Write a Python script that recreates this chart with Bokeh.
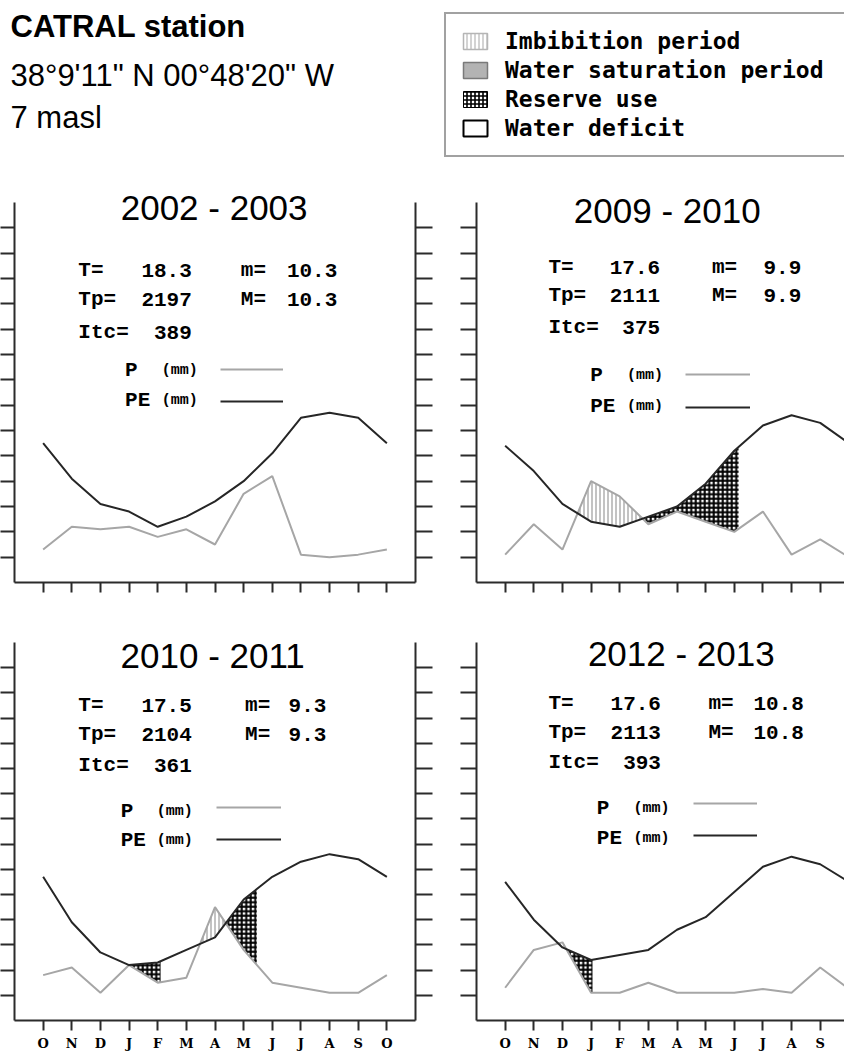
import numpy as np
from bokeh.plotting import figure
from bokeh.models import (Range1d, LinearAxis, FixedTicker, Label, Legend,
                          LegendItem, ColumnDataSource)
from bokeh.layouts import column, row
from bokeh.embed import file_html
from bokeh.resources import INLINE
from bokeh.core.properties import value

# ---------------- data ----------------
MONTHS = ["O", "N", "D", "J", "F", "M", "A", "M", "J", "J", "A", "S", "O"]
Y_TICKS = [10, 20, 30, 40, 50, 60, 70, 80, 90, 100, 110, 120, 130, 140]

STATION = "CATRAL station"
COORDS = "38°9'11\" N 00°48'20\" W"
ALTITUDE = "7 masl"
LEGEND_LABELS = ["Imbibition period", "Water saturation period",
                 "Reserve use", "Water deficit"]

TITLES = ["2002 - 2003", "2009 - 2010", "2010 - 2011", "2012 - 2013"]

P_0203 = [13, 22, 21, 22, 18, 21, 15, 35, 42, 11, 10, 11, 13]
PE_0203 = [55, 41, 31, 28, 22, 26, 32, 40, 51, 65, 67, 65, 55]
P_0910 = [11, 23, 13, 40, 34, 23, 28, 24, 20, 28, 11, 17, 10]
PE_0910 = [54, 44, 31, 24, 22, 26, 30, 39, 52, 62, 66, 63, 55]
P_1011 = [18, 21, 11, 22, 15, 17, 45, 28, 15, 13, 11, 11, 18]
PE_1011 = [57, 39, 27, 22, 23, 28, 33, 48, 57, 63, 66, 64, 57]
P_1213 = [13, 28, 31, 11, 11, 15, 11, 11, 11, 12.5, 11, 21, 12.5]
PE_1213 = [55, 40, 29, 24, 26, 28, 36, 41, 51, 61, 65, 62, 55]

# reserve-use periods (month-index spans)
RESERVE_0203 = []
RESERVE_0910 = [(4.8, 8.15)]
RESERVE_1011 = [(3.0, 4.1), (6.38, 7.46)]
RESERVE_1213 = [(2.13, 3.05)]

STATS_0203 = ["18.3", "2197", "389", "10.3", "10.3"]
STATS_0910 = ["17.6", "2111", "375", "9.9", "9.9"]
STATS_1011 = ["17.5", "2104", "361", "9.3", "9.3"]
STATS_1213 = ["17.6", "2113", "393", "10.8", "10.8"]
STAT_NAMES = ["T=", "Tp=", "Itc=", "m=", "M="]

PANELS = [
    (TITLES[0], P_0203, PE_0203, RESERVE_0203, STATS_0203),
    (TITLES[1], P_0910, PE_0910, RESERVE_0910, STATS_0910),
    (TITLES[2], P_1011, PE_1011, RESERVE_1011, STATS_1011),
    (TITLES[3], P_1213, PE_1213, RESERVE_1213, STATS_1213),
]

# ---------------- layout (positions of annotations) ----------------
PX_PER_MONTH = 401 / 14.0
LAYOUT = [
    dict(side="left", rowpos="top", tx=5.97, ty=148.0, ax=1.23, bx=5.19, cx=6.90, dx=8.51,
         rows=(123.0, 111.9, 98.7), px=2.86, mmx=4.14, lx0=6.18, lx1=8.39,
         py=83.7, pey=71.8, ply=84.1, pely=71.6),
    dict(side="right", rowpos="top", tx=5.66, ty=146.7, ax=1.51, bx=5.41, cx=7.22, dx=9.02,
         rows=(124.3, 113.1, 100.5), px=2.97, mmx=4.25, lx0=6.29, lx1=8.55,
         py=81.7, pey=69.3, ply=82.1, pely=69.2),
    dict(side="left", rowpos="bottom", tx=5.92, ty=144.7, ax=1.23, bx=5.19, cx=7.05, dx=8.57,
         rows=(124.8, 113.6, 101.2), px=2.71, mmx=3.97, lx0=6.04, lx1=8.30,
         py=82.9, pey=71.5, ply=83.9, pely=71.4),
    dict(side="right", rowpos="bottom", tx=6.15, ty=145.5, ax=1.51, bx=5.44, cx=7.10, dx=8.67,
         rows=(125.8, 114.4, 102.2), px=3.20, mmx=4.48, lx0=6.57, lx1=8.81,
         py=84.3, pey=72.4, ply=85.4, pely=72.8),
]

MONO = "Liberation Mono"
SANS = "Liberation Sans"
AXIS_COLOR = "#2b2b2b"
P_COLOR = "#a6a6a6"
PE_COLOR = "#262626"


def with_crossings(x, a, b):
    xs = [x[0]]
    for k in range(len(x) - 1):
        d0 = a[k] - b[k]
        d1 = a[k + 1] - b[k + 1]
        if d0 * d1 < 0:
            t = d0 / (d0 - d1)
            xs.append(x[k] + t * (x[k + 1] - x[k]))
        xs.append(x[k + 1])
    return np.array(xs, dtype=float)


def make_panel(title, P, PE, reserve, stats, L):
    if L["side"] == "left":
        width, mbl, mbr = 445, 14, 30
        xr = Range1d(-1, 13)
    else:
        width, mbl, mbr = 399, 31, 0
        xr = Range1d(-1, -1 + 368 / PX_PER_MONTH)
    if L["rowpos"] == "top":
        # frame from page y 190 to 582; y=150 sits at 202
        height, mbt, mbb = 435, 5, 38
        yscale = 380 / 150.0
        ytop = 150 + 12 / yscale
    else:
        # frame from page y 633 to 1023; y=150 sits at 642
        height, mbt, mbb = 433, 13, 30
        yscale = 381 / 150.0
        ytop = 150 + 9 / yscale

    p = figure(width=width, height=height, x_range=xr, y_range=Range1d(0, ytop),
               output_backend="svg", toolbar_location=None,
               x_axis_type=None, y_axis_type=None,
               min_border_left=mbl, min_border_right=mbr,
               min_border_top=mbt, min_border_bottom=mbb)
    p.outline_line_color = None
    p.background_fill_color = "white"

    # axes
    xaxis = LinearAxis(ticker=FixedTicker(ticks=list(range(13))))
    xaxis.axis_line_color = AXIS_COLOR
    xaxis.axis_line_width = 2
    xaxis.major_tick_line_color = AXIS_COLOR
    xaxis.major_tick_line_width = 2
    xaxis.major_tick_in = 0
    xaxis.major_tick_out = 10
    xaxis.minor_tick_line_color = None
    if L["rowpos"] == "bottom":
        xaxis.major_label_overrides = {i: m for i, m in enumerate(MONTHS)}
        xaxis.major_label_text_font = "DejaVu Serif"
        xaxis.major_label_text_font_style = "bold"
        xaxis.major_label_text_font_size = "13px"
        xaxis.major_label_text_color = "black"
        xaxis.major_label_standoff = 5
    else:
        xaxis.major_label_overrides = {i: "" for i in range(13)}
        xaxis.major_label_text_font_size = "0px"
        xaxis.major_label_standoff = 0
    p.add_layout(xaxis, "below")

    def yaxis(tick_out):
        ax = LinearAxis(ticker=FixedTicker(ticks=Y_TICKS), bounds=(0, 150))
        ax.axis_line_color = AXIS_COLOR
        ax.axis_line_width = 2
        ax.major_tick_line_color = AXIS_COLOR
        ax.major_tick_line_width = 2
        ax.major_tick_in = 0
        ax.major_tick_out = tick_out
        ax.minor_tick_line_color = None
        ax.major_label_overrides = {t: "" for t in Y_TICKS}
        ax.major_label_text_font_size = "0px"
        ax.major_label_standoff = 0
        return ax

    if L["side"] == "left":
        p.add_layout(yaxis(14), "left")
        p.add_layout(yaxis(17), "right")
    else:
        p.add_layout(yaxis(16), "left")

    x = np.arange(13, dtype=float)
    Pa = np.array(P, dtype=float)
    PEa = np.array(PE, dtype=float)

    # imbibition: P above PE
    xs = with_crossings(x, Pa, PEa)
    pi = np.interp(xs, x, Pa)
    pei = np.interp(xs, x, PEa)
    p.varea(x=xs, y1=pei, y2=np.maximum(pi, pei), fill_color="white",
            hatch_pattern="vertical_line", hatch_color="#9a9a9a",
            hatch_scale=4, hatch_weight=1.2)

    # reserve use spans
    for (a, b) in reserve:
        xr_ = [a] + [k for k in x if a < k < b] + [b]
        xr_ = np.array(xr_, dtype=float)
        top = np.interp(xr_, x, PEa)
        bot = np.minimum(np.interp(xr_, x, Pa), top)
        p.varea(x=xr_, y1=bot, y2=top, fill_color="white",
                hatch_pattern="cross", hatch_color="black",
                hatch_scale=4.5, hatch_weight=2.0)

    r_p = p.line(x, Pa, line_color=P_COLOR, line_width=2)
    r_pe = p.line(x, PEa, line_color=PE_COLOR, line_width=2)

    # title
    p.add_layout(Label(x=L["tx"], y=L["ty"], text=title, text_font=SANS,
                       text_font_size="35px", text_align="center",
                       text_baseline="middle", text_color="black"))

    # statistics
    def lab(xv, yv, txt, align="left", size="21px"):
        p.add_layout(Label(x=xv, y=yv, text=txt, text_font=MONO,
                           text_font_style="bold", text_font_size=size,
                           text_align=align, text_baseline="middle",
                           text_color="black"))

    r1, r2, r3 = L["rows"]
    lab(L["ax"], r1, STAT_NAMES[0])
    lab(L["bx"], r1, stats[0], "right")
    lab(L["ax"], r2, STAT_NAMES[1])
    lab(L["bx"], r2, stats[1], "right")
    lab(L["ax"], r3, STAT_NAMES[2])
    lab(L["bx"], r3, stats[2], "right")
    lab(L["cx"], r1, STAT_NAMES[3])
    lab(L["dx"], r1, stats[3])
    lab(L["cx"], r2, STAT_NAMES[4])
    lab(L["dx"], r2, stats[4])

    lab(L["px"], L["py"], "P")
    lab(L["mmx"], L["py"], "(mm)", size="15px")
    lab(L["px"], L["pey"], "PE")
    lab(L["mmx"], L["pey"], "(mm)", size="15px")

    # line key (glyph samples) via the library's legend
    spacing = int(round((L["ply"] - L["pely"]) * yscale - 20))
    loc_x = int(round((L["lx0"] + 1) * PX_PER_MONTH))
    loc_y = int(round(L["pely"] * yscale - 10))
    key = Legend(items=[LegendItem(label=value(""), renderers=[r_p]),
                        LegendItem(label=value(""), renderers=[r_pe])],
                 location=(loc_x, loc_y), orientation="vertical",
                 glyph_width=int(round((L["lx1"] - L["lx0"]) * PX_PER_MONTH)),
                 glyph_height=20, label_height=20, label_width=0,
                 label_standoff=0, label_text_font_size="0px",
                 spacing=spacing, padding=0, margin=0,
                 border_line_color=None, background_fill_alpha=0)
    p.add_layout(key)
    return p


# ---------------- header ----------------
header = figure(width=844, height=185, x_range=Range1d(0, 844), y_range=Range1d(185, 0),
                output_backend="svg", toolbar_location=None,
                x_axis_type=None, y_axis_type=None,
                min_border_left=0, min_border_right=0, min_border_top=0, min_border_bottom=0)
header.outline_line_color = None

header.add_layout(Label(x=10, y=26, text=STATION, text_font=SANS, text_font_style="bold",
                        text_font_size="31px", text_baseline="middle", text_color="black"))
header.add_layout(Label(x=10, y=75, text=COORDS, text_font=SANS,
                        text_font_size="31px", text_baseline="middle", text_color="black"))
header.add_layout(Label(x=10, y=117, text=ALTITUDE, text_font=SANS,
                        text_font_size="31px", text_baseline="middle", text_color="black"))

# legend swatches: renderers kept outside the visible header range
off = ColumnDataSource(data=dict(l=[-60], r=[-50], t=[-60], b=[-50]))
g_imb = header.quad(left="l", right="r", top="t", bottom="b", source=off,
                    fill_color="white", line_color="#b5b5b5", line_width=1.5,
                    hatch_pattern="vertical_line", hatch_color="#b5b5b5",
                    hatch_scale=4, hatch_weight=1.2)
g_sat = header.quad(left="l", right="r", top="t", bottom="b", source=off,
                    fill_color="#b3b3b3", line_color="#7a7a7a", line_width=1.5)
g_res = header.quad(left="l", right="r", top="t", bottom="b", source=off,
                    fill_color="white", line_color="black", line_width=1,
                    hatch_pattern="cross", hatch_color="black",
                    hatch_scale=4, hatch_weight=1.6)
g_def = header.quad(left="l", right="r", top="t", bottom="b", source=off,
                    fill_color="white", line_color="black", line_width=2)

legend = Legend(items=[LegendItem(label=LEGEND_LABELS[0], renderers=[g_imb]),
                       LegendItem(label=LEGEND_LABELS[1], renderers=[g_sat]),
                       LegendItem(label=LEGEND_LABELS[2], renderers=[g_res]),
                       LegendItem(label=LEGEND_LABELS[3], renderers=[g_def])],
                location=(444, 28), orientation="vertical",
                glyph_width=30, glyph_height=20, label_height=26, label_width=400,
                label_standoff=15, spacing=3, padding=14, margin=0,
                label_text_font="DejaVu Sans Mono", label_text_font_style="bold",
                label_text_font_size="23px", label_text_color="black",
                border_line_color="#444444", border_line_width=2,
                background_fill_color="white", background_fill_alpha=1)
header.add_layout(legend)

panels = [make_panel(t, P, PE, R, S, L) for (t, P, PE, R, S), L in zip(PANELS, LAYOUT)]

layout = column(header, row(panels[0], panels[1], spacing=0),
                row(panels[2], panels[3], spacing=0), spacing=0)

open("out.html", "w").write(file_html(layout, INLINE, title="CATRAL station"))
